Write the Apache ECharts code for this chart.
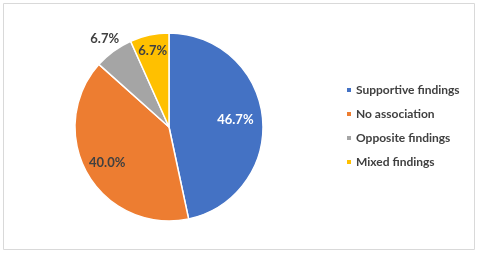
<!DOCTYPE html>
<html>
<head>
<meta charset="utf-8">
<script src="https://cdn.jsdelivr.net/npm/echarts@6/dist/echarts.min.js"></script>
<style>
  html, body { margin: 0; padding: 0; background: #fff; }
  #chart { width: 478px; height: 254px; }
</style>
</head>
<body>
<div id="chart"></div>
<script>
// slice data
var categories = ['Supportive findings', 'No association', 'Opposite findings', 'Mixed findings']
var shares = [46.7, 40.0, 6.7, 6.7]
var colors = ['#4472C4', '#ED7D31', '#A5A5A5', '#FFC000']
var labelColors = ['#ffffff', '#404040', '#404040', '#404040']
// how far out each label sits, as a fraction of the radius
var labelRatio = [0.71, 0.76, 1.16, 0.83]

var chart = echarts.init(document.getElementById('chart'))
var cx = 169, cy = 127, radius = 94

var option = {
  animation: false,
  color: colors,
  graphic: [{
    type: 'rect',
    shape: { x: 3.5, y: 3.5, width: 471, height: 246 },
    style: { fill: 'none', stroke: '#d9d9d9', lineWidth: 1 },
    silent: true
  }],
  legend: {
    orient: 'vertical',
    left: 345,
    top: 83,
    padding: 0,
    icon: 'rect',
    itemWidth: 6,
    itemHeight: 6,
    itemGap: 10,
    textStyle: {
      fontFamily: 'Lato',
      fontWeight: 'bold',
      fontSize: 12,
      lineHeight: 14,
      color: '#404040',
      padding: [0, 0, 0, -1]
    },
    data: categories
  },
  series: [{
    type: 'pie',
    center: [cx, cy],
    radius: radius,
    startAngle: 90,
    clockwise: true,
    itemStyle: { borderColor: '#fff', borderWidth: 1.5 },
    label: {
      show: true,
      position: 'inside',
      fontFamily: 'Lato',
      fontWeight: 'bold',
      fontSize: 13,
      formatter: function (p) { return p.value.toFixed(1) + '%' }
    },
    labelLine: { show: false },
    labelLayout: function (p) {
      var lx = p.labelRect.x + p.labelRect.width / 2
      var ly = p.labelRect.y + p.labelRect.height / 2
      var dx = lx - cx, dy = ly - cy
      var len = Math.sqrt(dx * dx + dy * dy) || 1
      var k = labelRatio[p.dataIndex] * radius / len
      return { x: cx + dx * k, y: cy + dy * k }
    },
    data: categories.map(function (name, i) {
      return { name: name, value: shares[i], label: { color: labelColors[i] } }
    })
  }]
}

chart.setOption(option)
</script>
</body>
</html>
